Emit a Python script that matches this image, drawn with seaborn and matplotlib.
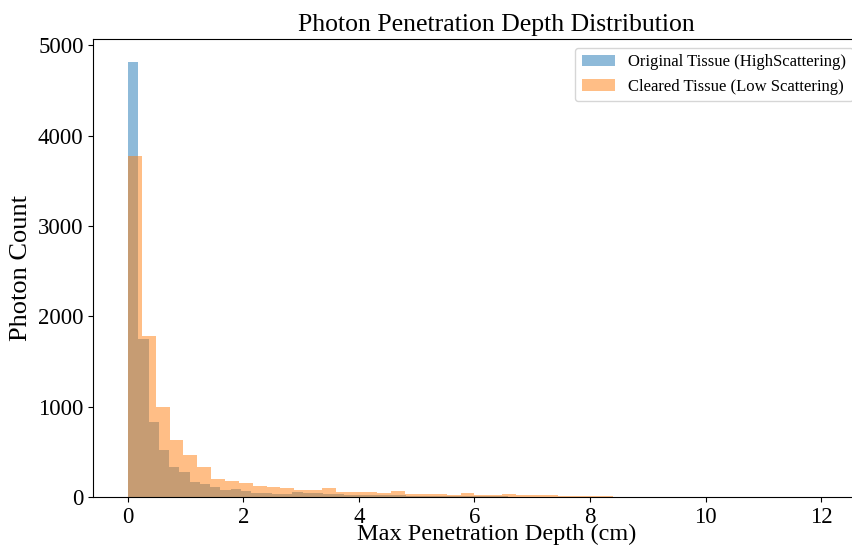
import numpy as np
import pandas as pd
import matplotlib
import matplotlib.pyplot as plt
import seaborn as sns

matplotlib.use('Agg')

# histogram counts (50 bins each)
original_counts = [4815, 1748, 833, 520, 335, 280, 169, 140, 107, 80,
                   90, 66, 48, 40, 38, 36, 55, 50, 44, 30,
                   28, 26, 24, 22, 20, 18, 17, 15, 13, 12,
                   11, 10, 9, 8, 7, 6, 6, 5, 4, 4,
                   3, 3, 2, 2, 2, 1, 1, 1, 0, 1]
cleared_counts = [3776, 1781, 1000, 630, 465, 335, 199, 177, 151, 122,
                  114, 96, 77, 77, 96, 59, 59, 59, 41, 66,
                  33, 33, 33, 22, 41, 26, 18, 37, 18, 18,
                  25, 10, 10, 8, 6, 2, 1, 1, 0, 1,
                  0, 0, 1, 0, 0, 0, 0, 0, 0, 1]
original_max_depth = 8.9
cleared_max_depth = 12.0
labels = ['Original Tissue (HighScattering)', 'Cleared Tissue (Low Scattering)']

plt.rcParams['font.family'] = ['Liberation Serif', 'DejaVu Serif']

fig = plt.figure(figsize=(8.52, 5.46), dpi=100)
# the original figure is cut off on the right, so the axes run past the edge
ax = fig.add_axes([0.1095, 0.0897, 0.947, 0.838])

for counts, dmax, color, label in [(original_counts, original_max_depth, '#1f77b4', labels[0]),
                                   (cleared_counts, cleared_max_depth, '#ff7f0e', labels[1])]:
    edges = np.linspace(0, dmax, len(counts) + 1)
    df = pd.DataFrame({'depth': (edges[:-1] + edges[1:]) / 2, 'count': counts})
    sns.histplot(data=df, x='depth', weights='count', bins=list(edges), color=color,
                 alpha=0.5, linewidth=0, label=label, ax=ax)

ax.set_xlim(-0.6, 13.37)
ax.set_ylim(0, 5063)
ax.set_xticks([0, 2, 4, 6, 8, 10, 12])
ax.set_title('Photon Penetration Depth Distribution', fontsize=18.5)
ax.set_xlabel('Max Penetration Depth (cm)', fontsize=17.5, labelpad=-2.5)
ax.set_ylabel('Photon Count', fontsize=19)
ax.tick_params(labelsize=16.5)
ax.legend(loc='upper right', bbox_to_anchor=(0.952, 1), fontsize=12)

fig.savefig('out.png', dpi=100)
